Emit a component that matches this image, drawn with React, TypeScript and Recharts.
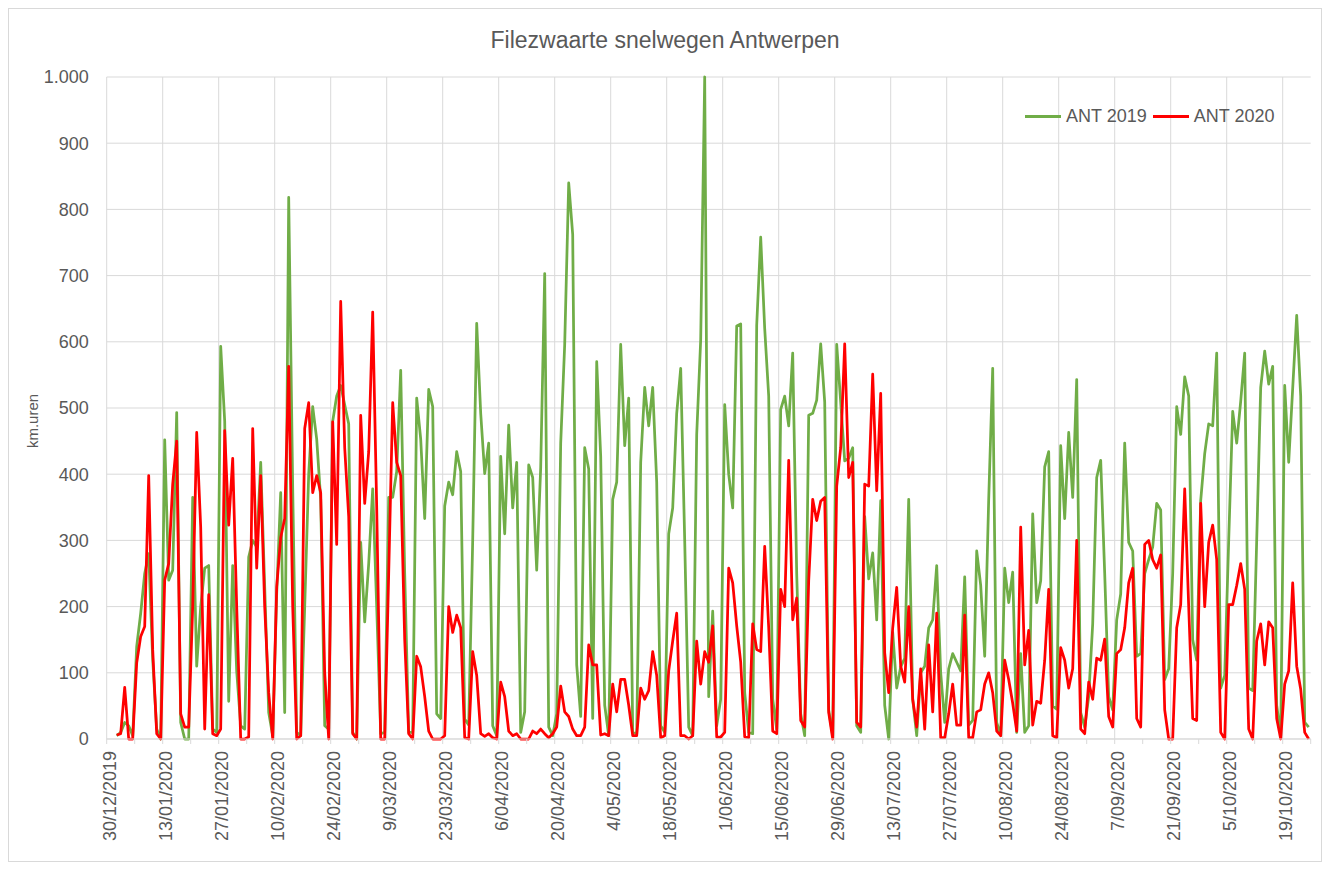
import React from "react";
import {
  LineChart, Line, XAxis, YAxis, CartesianGrid, ReferenceLine, Legend,
} from "recharts";

// day index is counted from 30/12/2019 (= 0); the series start on 1/01/2020
const FIRST_DAY = 2;

// one row per week (Mon..Sun), first row starts on Wednesday 1/01
const ant2019 = [
  5, 10, 25, 20, 5,
  140, 190, 250, 280, 120, 15, 0,
  452, 240, 255, 493, 25, 0, 0,
  365, 110, 200, 258, 262, 15, 10,
  593, 480, 57, 262, 102, 20, 15,
  275, 300, 290, 418, 230, 40, 5,
  220, 372, 40, 818, 380, 10, 5,
  200, 400, 502, 453, 362, 20, 15,
  480, 518, 534, 505, 476, 10, 0,
  297, 177, 265, 378, 200, 8, 10,
  365, 365, 404, 557, 250, 10, 10,
  515, 453, 333, 528, 502, 38, 31,
  352, 388, 369, 434, 404, 30, 21,
  300, 628, 492, 401, 447, 20, 5,
  427, 310, 474, 349, 418, 10, 41,
  414, 395, 255, 410, 703, 18, 5,
  38, 447, 596, 840, 762, 112, 34,
  440, 408, 31, 570, 427, 51, 5,
  362, 388, 596, 443, 515, 10, 8,
  418, 531, 473, 531, 388, 20, 10,
  310, 349, 492, 560, 300, 18, 5,
  460, 603, 1000, 64, 193, 20, 60,
  505, 400, 349, 624, 627, 70, 10,
  8, 625, 758, 620, 518, 60, 15,
  498, 518, 473, 583, 250, 38, 5,
  489, 492, 512, 597, 509, 44, 5,
  596, 509, 420, 424, 440, 20, 10,
  336, 242, 281, 180, 360, 51, 0,
  161, 77, 109, 122, 362, 60, 5,
  100, 110, 168, 180, 262, 100, 25,
  106, 129, 116, 103, 245, 21, 28,
  284, 232, 125, 362, 560, 25, 5,
  258, 206, 252, 10, 129, 10, 20,
  340, 206, 239, 411, 434, 50, 45,
  443, 333, 463, 365, 543, 40, 18,
  64, 174, 395, 421, 250, 64, 44,
  180, 219, 447, 297, 284, 125, 129,
  250, 271, 290, 356, 346, 90, 106,
  250, 502, 460, 547, 518, 150, 119,
  360, 431, 476, 473, 583, 77, 96,
  300, 495, 447, 510, 583, 77, 73,
  300, 531, 586, 536, 563, 51, 5,
  534, 418, 530, 640, 518, 25, 18,
];

const ant2020 = [
  6, 8, 78, 0, 0,
  115, 155, 170, 398, 135, 8, 0,
  240, 265, 385, 450, 38, 18, 18,
  200, 463, 320, 15, 218, 8, 5,
  15, 466, 323, 424, 200, 0, 0,
  3, 469, 258, 398, 200, 70, 0,
  230, 304, 333, 563, 200, 0, 5,
  469, 508, 372, 398, 372, 100, 0,
  479, 294, 661, 440, 336, 8, 0,
  489, 356, 434, 645, 350, 0, 0,
  250, 508, 418, 398, 150, 8, 0,
  125, 109, 64, 12, 0, 0, 0,
  5, 200, 161, 187, 168, 2, 0,
  132, 96, 8, 4, 8, 2, 0,
  86, 64, 12, 5, 8, 0, 0,
  0, 12, 8, 15, 8, 2, 8,
  18, 80, 41, 34, 15, 5, 5,
  18, 142, 112, 112, 6, 8, 5,
  83, 41, 90, 90, 51, 5, 5,
  77, 60, 73, 132, 96, 2, 5,
  103, 148, 190, 5, 5, 0, 5,
  148, 83, 132, 116, 171, 3, 3,
  10, 258, 236, 171, 116, 3, 2,
  174, 135, 132, 291, 168, 12, 8,
  226, 200, 421, 180, 213, 28, 18,
  239, 362, 330, 359, 365, 40, 0,
  382, 440, 597, 395, 418, 25, 18,
  385, 382, 551, 375, 522, 130, 70,
  168, 229, 110, 86, 200, 60, 18,
  106, 15, 142, 41, 190, 2, 2,
  38, 83, 21, 21, 187, 2, 2,
  41, 44, 83, 100, 70, 12, 5,
  119, 90, 54, 12, 320, 112, 164,
  21, 57, 54, 119, 226, 5, 2,
  138, 119, 77, 106, 300, 15, 8,
  86, 60, 122, 119, 151, 34, 18,
  129, 135, 168, 236, 258, 31, 18,
  294, 300, 271, 258, 278, 44, 0,
  0, 168, 203, 378, 200, 31, 28,
  356, 200, 297, 323, 271, 10, 0,
  203, 203, 232, 265, 226, 15, 0,
  148, 174, 112, 177, 168, 31, 0,
  83, 103, 236, 110, 75, 10, 0,
];

// labels every 14 days, starting at 30/12/2019
const dateLabels = [
  "30/12/2019", "13/01/2020", "27/01/2020", "10/02/2020", "24/02/2020",
  "9/03/2020", "23/03/2020", "6/04/2020", "20/04/2020", "4/05/2020",
  "18/05/2020", "1/06/2020", "15/06/2020", "29/06/2020", "13/07/2020",
  "27/07/2020", "10/08/2020", "24/08/2020", "7/09/2020", "21/09/2020",
  "5/10/2020", "19/10/2020",
];

const yTicks = [0, 100, 200, 300, 400, 500, 600, 700, 800, 900, 1000];

const TEXT = "#595959";
const GRID = "#d9d9d9";
const FONT = "'Liberation Sans', Arial, sans-serif";

// points sit in the middle of their day slot
const data = ant2019.map((v, i) => ({
  day: FIRST_DAY + i + 0.5,
  ant2019: v,
  ant2020: ant2020[i],
}));

const weekTicks = Array.from({ length: 44 }, (_, i) => i * 7);
const labelTicks = dateLabels.map((_, i) => i * 14);

const fmtY = (v: number) => (v >= 1000 ? "1.000" : String(v));

const DateTick = ({ x, y, payload }: any) => {
  const v = payload.value;
  if (v % 14 !== 0 || !dateLabels[v / 14]) return <g />;
  const ty = y + 5;
  return (
    <text
      x={x} y={ty} dy="0.5em" transform={`rotate(-90 ${x} ${ty})`}
      textAnchor="end" fill={TEXT} fontSize={18} fontFamily={FONT}
    >
      {dateLabels[v / 14]}
    </text>
  );
};

const AxisTitle = ({ viewBox }: any) => {
  const cx = viewBox.x - 4;
  const cy = viewBox.y + viewBox.height / 2 + 13;
  return (
    <text
      x={cx} y={cy} transform={`rotate(-90 ${cx} ${cy})`}
      textAnchor="middle" dominantBaseline="central"
      fill={TEXT} fontSize={15} fontFamily={FONT}
    >
      km.uren
    </text>
  );
};

const LegendBox = ({ payload }: any) => (
  <div style={{ display: "flex", alignItems: "center", fontFamily: FONT, fontSize: 18, color: TEXT, whiteSpace: "nowrap", lineHeight: "22px" }}>
    {(payload || []).map((entry: any) => (
      <span key={entry.value} style={{ display: "flex", alignItems: "center", marginRight: 6 }}>
        <span style={{ display: "inline-block", width: 36, height: 3, background: entry.color, marginRight: 5 }} />
        {entry.value}
      </span>
    ))}
  </div>
);

export default function App() {
  return (
    <div
      style={{
        position: "relative", width: 1314, height: 854, boxSizing: "border-box",
        border: `1px solid ${GRID}`, background: "#fff", fontFamily: FONT,
      }}
    >
      <LineChart width={1312} height={852} data={data} margin={{ top: 68, right: 10.3, bottom: 12, left: 27.7 }}>
        <CartesianGrid vertical={false} stroke={GRID} />
        {labelTicks.map((t) => (
          <ReferenceLine key={t} x={t} stroke={GRID} strokeWidth={1} />
        ))}
        <XAxis
          type="number" dataKey="day" domain={[0, 301]} ticks={weekTicks} interval={0}
          tick={<DateTick />} tickSize={5} tickLine={{ stroke: GRID }}
          axisLine={{ stroke: GRID }} height={110}
        />
        <YAxis
          type="number" domain={[0, 1000]} ticks={yTicks} interval={0} tickFormatter={fmtY}
          tickLine={false} axisLine={false} width={70} tickSize={6} tickMargin={12}
          tick={{ fill: TEXT, fontSize: 18, fontFamily: FONT }}
          label={<AxisTitle />}
        />
        <Legend
          layout="horizontal" verticalAlign="middle" align="center"
          content={<LegendBox />}
          wrapperStyle={{ top: 96, left: 1016, width: 300 }}
        />
        <Line
          type="linear" dataKey="ant2019" name="ANT 2019" stroke="#70ad47"
          strokeWidth={2.75} strokeLinejoin="round" dot={false} isAnimationActive={false}
        />
        <Line
          type="linear" dataKey="ant2020" name="ANT 2020" stroke="#ff0000"
          strokeWidth={2.75} strokeLinejoin="round" dot={false} isAnimationActive={false}
        />
      </LineChart>
      <div
        style={{
          position: "absolute", top: 18, left: 0, width: "100%", textAlign: "center",
          fontSize: 23, lineHeight: "26px", color: TEXT, pointerEvents: "none",
        }}
      >
        Filezwaarte snelwegen Antwerpen
      </div>
    </div>
  );
}
